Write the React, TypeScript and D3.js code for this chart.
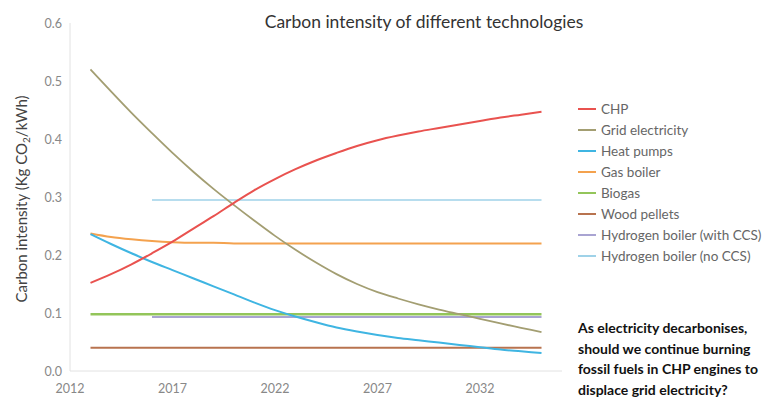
import * as d3 from 'd3'
import React, { useEffect, useRef } from 'react'

const width = 763
const height = 397

const years = d3.range(2013, 2036)
const hydrogenYears = d3.range(2016, 2036)

const chp = [0.152, 0.167, 0.184, 0.203, 0.223, 0.245, 0.267, 0.29, 0.312, 0.331, 0.348, 0.363, 0.376, 0.388, 0.398, 0.406, 0.413, 0.419, 0.425, 0.431, 0.437, 0.442, 0.447]
const grid = [0.52, 0.482, 0.445, 0.41, 0.376, 0.344, 0.314, 0.286, 0.259, 0.233, 0.209, 0.187, 0.167, 0.15, 0.136, 0.125, 0.115, 0.106, 0.098, 0.09, 0.082, 0.0745, 0.067]
const heatPumps = [0.236, 0.219, 0.203, 0.188, 0.174, 0.16, 0.146, 0.132, 0.118, 0.105, 0.094, 0.084, 0.075, 0.068, 0.062, 0.057, 0.053, 0.049, 0.045, 0.041, 0.037, 0.034, 0.031]
const gasBoiler = [0.237, 0.231, 0.227, 0.224, 0.222, 0.221, 0.221, 0.22, 0.22, 0.22, 0.22, 0.22, 0.22, 0.22, 0.22, 0.22, 0.22, 0.22, 0.22, 0.22, 0.22, 0.22, 0.22]
const biogas = years.map(() => 0.098)
const woodPellets = years.map(() => 0.04)
const hydrogenCcs = hydrogenYears.map(() => 0.093)
const hydrogenNoCcs = hydrogenYears.map(() => 0.295)

const yTicks = [0, 0.1, 0.2, 0.3, 0.4, 0.5, 0.6]
const xTicks = [2012, 2017, 2022, 2027, 2032]

const annotation = [
  'As electricity decarbonises,',
  'should we continue burning',
  'fossil fuels in CHP engines to',
  'displace grid electricity?',
]

const series = [
  { name: 'CHP', color: '#e9524f', years, values: chp, w: 2 },
  { name: 'Grid electricity', color: '#a39e72', years, values: grid, w: 1.8 },
  { name: 'Heat pumps', color: '#3fb5e2', years, values: heatPumps, w: 2 },
  { name: 'Gas boiler', color: '#f4a24e', years, values: gasBoiler, w: 2 },
  { name: 'Biogas', color: '#93c55a', years, values: biogas, w: 2.5 },
  { name: 'Wood pellets', color: '#b8734f', years, values: woodPellets, w: 2 },
  { name: 'Hydrogen boiler (with CCS)', color: '#a9a4d2', years: hydrogenYears, values: hydrogenCcs, w: 2 },
  { name: 'Hydrogen boiler (no CCS)', color: '#9fd2e8', years: hydrogenYears, values: hydrogenNoCcs, w: 1.5 },
]

// draw order: purple under green
const drawOrder = [6, 7, 5, 4, 3, 2, 1, 0]

const App: React.FC = () => {
  const ref = useRef<SVGSVGElement>(null)

  useEffect(() => {
    document.body.style.margin = '0'
    const svg = d3.select(ref.current)
    svg.selectAll('*').remove()

    const x = d3.scaleLinear().domain([2012, 2036]).range([70, 562])
    const y = d3.scaleLinear().domain([0, 0.6]).range([371, 23])

    svg
      .append('text')
      .attr('x', 424)
      .attr('y', 28)
      .attr('text-anchor', 'middle')
      .attr('font-size', 17.5)
      .attr('fill', '#333')
      .text('Carbon intensity of different technologies')

    // axes
    svg.append('line').attr('x1', 70).attr('x2', 70).attr('y1', y(0.6)).attr('y2', y(0)).attr('stroke', '#e2e2e2')
    svg.append('line').attr('x1', 70).attr('x2', x(2036)).attr('y1', y(0)).attr('y2', y(0)).attr('stroke', '#e2e2e2')

    svg
      .append('g')
      .selectAll('text')
      .data(yTicks)
      .enter()
      .append('text')
      .attr('x', 62)
      .attr('y', (d) => y(d) + 4.5)
      .attr('text-anchor', 'end')
      .attr('font-size', 12.5)
      .attr('fill', '#888')
      .text((d) => d.toFixed(1))

    svg
      .append('g')
      .selectAll('text')
      .data(xTicks)
      .enter()
      .append('text')
      .attr('x', (d) => x(d))
      .attr('y', 393)
      .attr('text-anchor', 'middle')
      .attr('font-size', 12.5)
      .attr('fill', '#888')
      .text((d) => d)

    const yl = svg
      .append('text')
      .attr('transform', 'translate(27,199) rotate(-90)')
      .attr('text-anchor', 'middle')
      .attr('font-size', 15)
      .attr('fill', '#444')
    yl.append('tspan').text('Carbon intensity (Kg CO')
    yl.append('tspan').attr('font-size', 10).attr('dy', 3).text('2')
    yl.append('tspan').attr('dy', -3).text('/kWh)')

    const line = d3
      .line<[number, number]>()
      .x((d) => x(d[0]))
      .y((d) => y(d[1]))
      .curve(d3.curveMonotoneX)

    drawOrder.forEach((i) => {
      const s = series[i]
      const pts = s.years.map((yr, j) => [yr, s.values[j]] as [number, number])
      svg
        .append('path')
        .attr('d', line(pts))
        .attr('fill', 'none')
        .attr('stroke', s.color)
        .attr('stroke-width', s.w)
    })

    // legend
    const lg = svg.append('g').attr('transform', 'translate(578,109)')
    series.forEach((s, i) => {
      const g = lg.append('g').attr('transform', `translate(0,${i * 21})`)
      g.append('line').attr('x1', 0).attr('x2', 18).attr('stroke', s.color).attr('stroke-width', 2)
      g.append('text').attr('x', 23).attr('y', 5).attr('font-size', 13.5).attr('fill', '#666').text(s.name)
    })

    svg
      .append('g')
      .selectAll('text')
      .data(annotation)
      .enter()
      .append('text')
      .attr('x', 578)
      .attr('y', (d, i) => 333 + i * 20.5)
      .attr('font-size', 14)
      .attr('font-weight', 'bold')
      .attr('fill', '#111')
      .text((d) => d)
  }, [])

  return <svg ref={ref} width={width} height={height} style={{ display: 'block', fontFamily: 'Lato, sans-serif' }} />
}

export default App
